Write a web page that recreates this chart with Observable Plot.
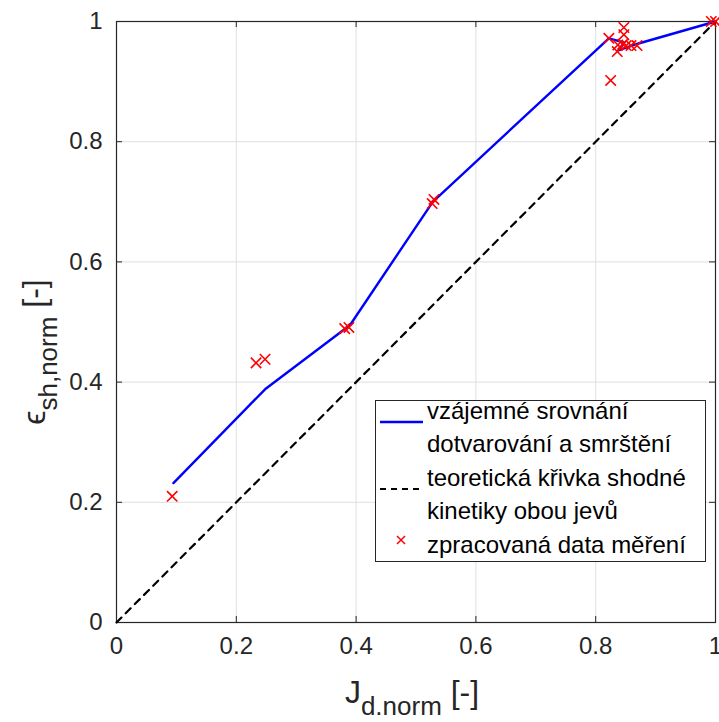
<!DOCTYPE html>
<html>
<head>
<meta charset="utf-8">
<script src="https://cdn.jsdelivr.net/npm/d3@7"></script>
<script src="https://cdn.jsdelivr.net/npm/@observablehq/plot@0.6"></script>
<style>
  html, body { margin: 0; padding: 0; background: #fff; }
  #chart { width: 719px; height: 722px; }
</style>
</head>
<body>
<div id="chart"></div>
<script>
// Fitted curve "vzájemné srovnání dotvarování a smrštění"
const lineX = [0.095, 0.248, 0.390, 0.528, 0.822, 0.848, 0.838, 0.870, 1.000];
const lineY = [0.232, 0.388, 0.495, 0.700, 0.972, 0.965, 0.952, 0.963, 1.000];
// Theoretical curve of identical kinetics
const diagX = [0, 1];
const diagY = [0, 1];
// Measured data points
const ptsX = [0.093, 0.233, 0.248, 0.381, 0.388, 0.527, 0.530, 0.822, 0.825, 0.836, 0.837, 0.845, 0.847, 0.847, 0.851, 0.859, 0.869, 0.993, 1.000];
const ptsY = [0.210, 0.432, 0.438, 0.489, 0.491, 0.697, 0.704, 0.972, 0.902, 0.950, 0.961, 0.962, 0.978, 0.990, 0.960, 0.960, 0.960, 1.000, 1.000];
// Ticks
const tickVals = [0, 0.2, 0.4, 0.6, 0.8, 1];
const tickLabels = ["0", "0.2", "0.4", "0.6", "0.8", "1"];
const legendLabels = [
  ["vzájemné srovnání", "dotvarování a smrštění"],
  ["teoretická křivka shodné", "kinetiky obou jevů"],
  ["zpracovaná data měření"]
];

const lineData = lineX.map((x, i) => ({x, y: lineY[i]}));
const diagData = diagX.map((x, i) => ({x, y: diagY[i]}));
const ptsData = ptsX.map((x, i) => ({x, y: ptsY[i]}));
const fmt = d => tickLabels[tickVals.indexOf(d)];
const axisColor = "#262626";
const tk = 0.01;

const chart = Plot.plot({
  width: 719,
  height: 722,
  marginLeft: 116,
  marginRight: 4,
  marginTop: 21,
  marginBottom: 100,
  style: {fontFamily: "'Liberation Sans', Arial, sans-serif", fontSize: "24px", color: axisColor, background: "#fff", overflow: "visible"},
  x: {domain: [0, 1]},
  y: {domain: [0, 1]},
  marks: [
    Plot.gridX(tickVals, {stroke: "#dfdfdf", strokeOpacity: 1}),
    Plot.gridY(tickVals, {stroke: "#dfdfdf", strokeOpacity: 1}),
    Plot.axisX(tickVals, {tickSize: 0, tickPadding: 14, tickFormat: fmt, label: null, fill: axisColor, fontSize: 24}),
    Plot.axisY(tickVals, {tickSize: 0, tickPadding: 14, tickFormat: fmt, label: null, fill: axisColor, fontSize: 24}),
    Plot.ruleX(tickVals, {y1: 0, y2: tk, stroke: axisColor}),
    Plot.ruleX(tickVals, {y1: 1 - tk, y2: 1, stroke: axisColor}),
    Plot.ruleY(tickVals, {x1: 0, x2: tk, stroke: axisColor}),
    Plot.ruleY(tickVals, {x1: 1 - tk, x2: 1, stroke: axisColor}),
    Plot.frame({stroke: axisColor, strokeWidth: 1.2}),
    Plot.line(diagData, {x: "x", y: "y", stroke: "#000", strokeWidth: 2.2, strokeDasharray: "7,6"}),
    Plot.line(lineData, {x: "x", y: "y", stroke: "#0000ff", strokeWidth: 2.4}),
    Plot.dot(ptsData, {x: "x", y: "y", symbol: "times", r: 4.8, stroke: "#ff0000", strokeWidth: 1.6})
  ]
});

document.getElementById("chart").appendChild(chart);
const svg = d3.select(chart);
const font = "'Liberation Sans', Arial, sans-serif";

// X axis label: J_{d.norm} [-]
const xl = svg.append("text")
  .attr("x", 412).attr("y", 703)
  .attr("text-anchor", "middle")
  .attr("font-family", font).attr("font-size", 32).attr("fill", axisColor);
xl.append("tspan").text("J");
xl.append("tspan").attr("font-size", 26).attr("dy", 12).text("d.norm");
xl.append("tspan").attr("dy", -12).text(" [-]");

// Y axis label: ϵ_{sh,norm} [-]
const yl = svg.append("text")
  .attr("transform", "translate(45,352) rotate(-90)")
  .attr("text-anchor", "middle")
  .attr("font-family", font).attr("font-size", 32).attr("fill", axisColor);
yl.append("tspan").text("ϵ");
yl.append("tspan").attr("font-size", 26).attr("dy", 12).text("sh,norm");
yl.append("tspan").attr("dy", -12).text(" [-]");

// Legend
const lg = svg.append("g").attr("font-family", font).attr("font-size", 24).attr("fill", "#000").attr("text-anchor", "start");
lg.append("rect").attr("x", 375.5).attr("y", 400.5).attr("width", 330).attr("height", 161)
  .attr("fill", "#fff").attr("stroke", axisColor).attr("stroke-width", 1);
const rows = [411, 444, 478, 511, 545];
let r = 0;
legendLabels.forEach(group => group.forEach(t => {
  lg.append("text").attr("x", 427).attr("y", rows[r++] + 8).attr("text-anchor", "start").text(t);
}));
lg.append("line").attr("x1", 380).attr("x2", 423).attr("y1", 422).attr("y2", 422)
  .attr("stroke", "#0000ff").attr("stroke-width", 2.4);
lg.append("line").attr("x1", 380).attr("x2", 423).attr("y1", 489).attr("y2", 489)
  .attr("stroke", "#000").attr("stroke-width", 2.2).attr("stroke-dasharray", "6,5");
lg.append("path").attr("d", "M397,536L405,544M397,544L405,536")
  .attr("stroke", "#ff0000").attr("stroke-width", 1.5);
</script>
</body>
</html>
